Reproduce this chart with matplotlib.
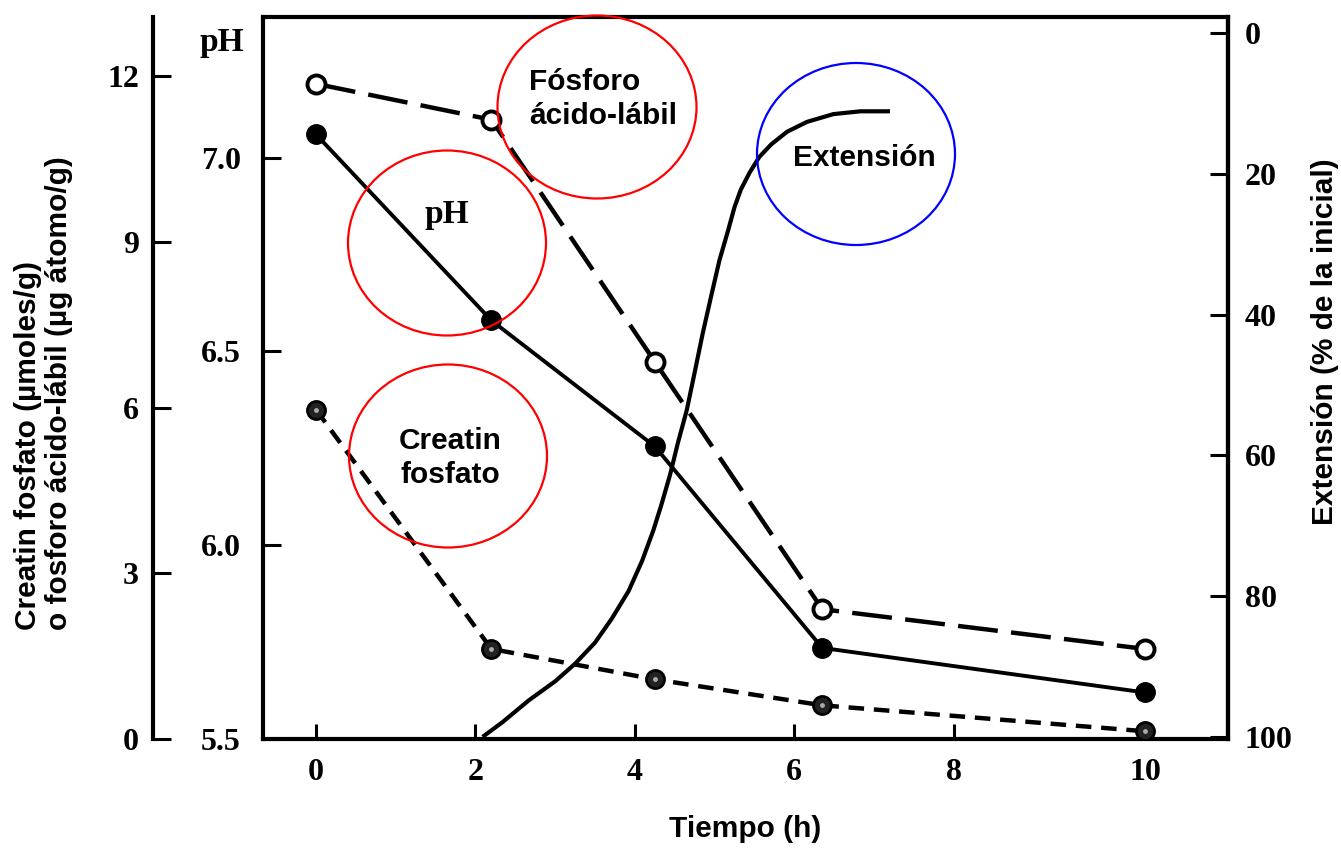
import matplotlib as mpl
mpl.use('Agg')
import matplotlib.pyplot as plt
from matplotlib.patches import Ellipse

# time (h) at which each sample was taken
tiempo = [0, 2.2, 4.25, 6.35, 10.4]
ph = [7.06, 6.58, 6.255, 5.735, 5.62]
fosforo = [11.86, 11.21, 6.83, 2.35, 1.63]        # ug atomo/g
creatin = [5.96, 1.63, 1.08, 0.61, 0.14]          # umoles/g

# extension curve (% of initial)
ext_t = [2.09, 2.34, 2.67, 3.00, 3.25, 3.50, 3.71, 3.92, 4.09, 4.23,
         4.33, 4.44, 4.54, 4.65, 4.75, 4.85, 4.96, 5.06, 5.17, 5.25,
         5.33, 5.44, 5.56, 5.71, 5.91, 6.16, 6.49, 6.83, 7.20]
ext_v = [100.0, 97.9, 94.8, 92.1, 89.6, 86.6, 83.2, 79.3, 75.0, 70.7,
         67.1, 62.8, 58.2, 53.6, 48.2, 42.7, 37.2, 32.3, 28.0, 24.7,
         22.2, 19.8, 17.6, 15.8, 14.0, 12.6, 11.5, 11.1, 11.1]

x_ticks = [0, 2, 4, 6, 8, 10.4]
x_labels = ['0', '2', '4', '6', '8', '10']
ph_ticks = [5.5, 6.0, 6.5, 7.0]
ph_labels = ['5.5', '6.0', '6.5', '7.0']
cr_ticks = [0, 3, 6, 9, 12]
ext_ticks = [0, 20, 40, 60, 80, 100]

serif = 'Liberation Serif'
sans = 'Liberation Sans'
sans_size = 21.5

fig = plt.figure(figsize=(13.41, 8.5), dpi=100)
ax = fig.add_axes([263/1341, 1-739/850, (1228-263)/1341, (739-17)/850])
axc = ax.twinx()
axe = ax.twinx()

spine_w = 3
# pH axis (main)
ax.set_xlim(-0.665, 11.44)
ax.set_ylim(5.5, 7.363)
for s in ax.spines.values():
    s.set_linewidth(spine_w)
ax.set_xticks(x_ticks)
ax.set_xticklabels(x_labels)
ax.set_yticks(ph_ticks)
ax.set_yticklabels(ph_labels)
ax.tick_params(axis='y', direction='in', length=13, width=2.2, pad=16)
ax.tick_params(axis='x', direction='in', length=11, width=2.2, pad=14)
for lab in ax.get_xticklabels() + ax.get_yticklabels():
    lab.set_fontfamily(serif)
    lab.set_fontweight('bold')
    lab.set_fontsize(23)

# creatine / phosphorus axis, far left
axc.set_ylim(0, 13.07)
axc.yaxis.set_ticks_position('left')
axc.spines['left'].set_position(('axes', -0.114))
axc.spines['left'].set_linewidth(spine_w)
for k in ['right', 'top', 'bottom']:
    axc.spines[k].set_visible(False)
axc.set_yticks(cr_ticks)
axc.tick_params(axis='y', direction='in', length=13, width=2.2, pad=10)
for lab in axc.get_yticklabels():
    lab.set_fontfamily(serif)
    lab.set_fontweight('bold')
    lab.set_fontsize(23)

# extension axis, right (inverted)
axe.set_ylim(100.3, -2.3)
axe.spines['right'].set_linewidth(spine_w)
for k in ['left', 'top', 'bottom']:
    axe.spines[k].set_visible(False)
axe.set_yticks(ext_ticks)
axe.tick_params(axis='y', direction='in', length=13, width=2.2, pad=12)
for lab in axe.get_yticklabels():
    lab.set_fontfamily(serif)
    lab.set_fontweight('bold')
    lab.set_fontsize(23)

# data
ax.plot(tiempo, ph, color='black', lw=2.8, marker='o', ms=14,
        mfc='black', mec='black', zorder=3)
axc.plot(tiempo, fosforo, color='black', lw=3.2, dashes=(9, 3), marker='o',
         ms=13, mfc='white', mec='black', mew=2.8, zorder=3)
axc.plot(tiempo, creatin, color='black', lw=3.2, dashes=(3.5, 2.2), marker='o',
         ms=13, mfc='#222222', mec='black', mew=2, zorder=3)
axc.plot(tiempo, creatin, ls='none', marker='o', ms=3.5, mfc='#aaaaaa',
         mec='none', zorder=4)
axe.plot(ext_t, ext_v, color='black', lw=3, solid_capstyle='butt',
         solid_joinstyle='round')

# labels
ax.set_xlabel('Tiempo (h)', fontfamily=sans, fontweight='bold', fontsize=sans_size,
              labelpad=20)
ax.text(-0.0425, 0.965, 'pH', transform=ax.transAxes, ha='center', va='center',
        fontfamily=serif, fontweight='bold', fontsize=24)
fig.text(14/1341, 1-630/850,
         'Creatin fosfato (µmoles/g)\no fosforo ácido-lábil (µg átomo/g)',
         rotation=90, ha='left', va='bottom', multialignment='left',
         fontfamily=sans, fontweight='bold', fontsize=sans_size, linespacing=1.15)
fig.text(1325/1341, 1-342/850, 'Extensión (% de la inicial)', rotation=90,
         ha='center', va='center', fontfamily=sans, fontweight='bold',
         fontsize=sans_size)

# curve names inside the plot
fig.text(529/1341, 1-99/850, 'Fósforo\nácido-lábil', ha='left', va='center',
         fontfamily=sans, fontweight='bold', fontsize=sans_size, linespacing=1.3)
fig.text(447/1341, 1-215/850, 'pH', ha='center', va='center',
         fontfamily=serif, fontweight='bold', fontsize=24)
fig.text(450/1341, 1-458/850, 'Creatin\nfosfato', ha='center', va='center',
         fontfamily=sans, fontweight='bold', fontsize=sans_size, linespacing=1.3)
fig.text(864/1341, 1-158/850, 'Extensión', ha='center', va='center',
         fontfamily=sans, fontweight='bold', fontsize=sans_size)

# hand-drawn highlight ellipses
for cx, cy, w, h, c in [(597, 107, 199, 183, 'red'),
                        (447, 243, 198, 185, 'red'),
                        (448, 456, 198, 183, 'red'),
                        (856, 154, 198, 182, 'blue')]:
    fig.patches.append(Ellipse((cx/1341, 1-cy/850), w/1341, h/850,
                               transform=fig.transFigure, fill=False,
                               edgecolor=c, lw=1.6, zorder=10))

plt.savefig('out.png', dpi=100)
